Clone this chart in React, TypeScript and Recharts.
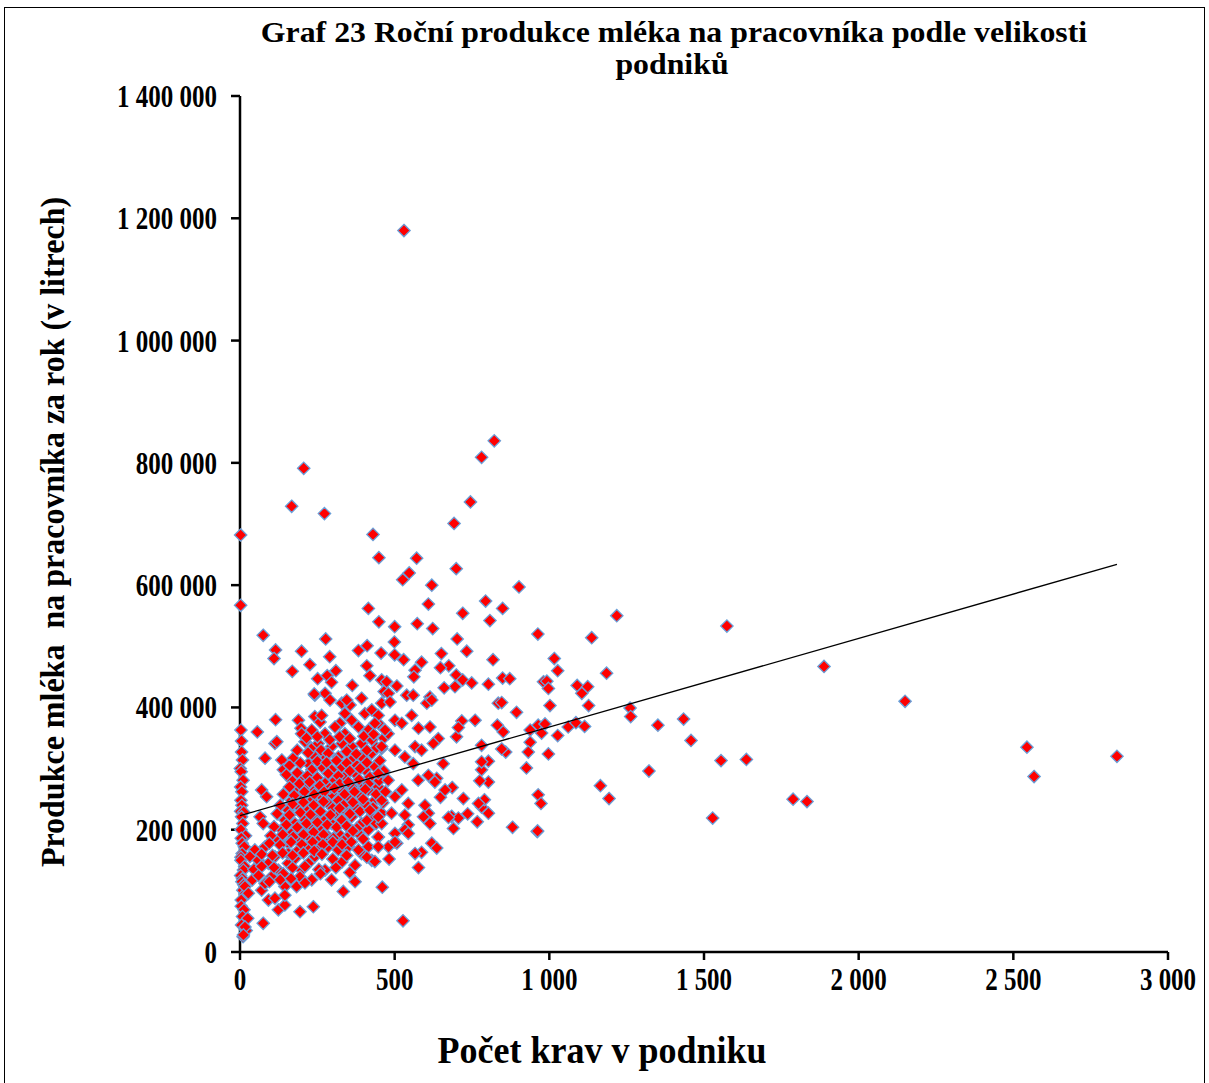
import React from 'react';
import { ScatterChart, Scatter, XAxis, YAxis } from 'recharts';

// [cows, litres per worker]
const herdsAtZero: [number, number][] = [
  [2, 682000], [2, 567000], [3, 363000], [5, 345000], [5, 327000], [8, 314000], [1, 300000], [4, 295000],
  [10, 281000], [2, 270000], [6, 262000], [3, 248000], [6, 240000], [2, 230000], [12, 229000], [5, 221000],
  [9, 210000], [3, 200000], [18, 190000], [4, 186000], [7, 178000], [14, 172000], [7, 161000], [3, 155000],
  [3, 150000], [15, 140000], [11, 134000], [2, 125000], [8, 120000], [6, 115000], [12, 110000], [9, 101000],
  [16, 95000], [4, 85000], [4, 75000], [13, 69000], [8, 58000], [25, 55000], [5, 44000], [20, 35000], [10, 25000],
];

const herdsSmall: [number, number][] = [
  [16, 107000], [27, 96000], [70, 101000], [92, 85000], [113, 88000], [124, 69000], [145, 77000], [194, 66000],
  [237, 74000], [75, 47000], [16, 41000], [11, 28000],
  [48, 167000], [81, 172000], [32, 156000], [59, 150000], [92, 145000], [113, 156000], [124, 134000], [156, 145000],
  [178, 153000], [199, 134000], [221, 145000], [242, 156000], [275, 134000], [329, 147000], [372, 142000],
  [296, 118000], [334, 99000], [372, 115000], [81, 112000], [102, 123000], [145, 107000], [183, 107000],
  [194, 123000], [232, 118000], [145, 93000], [426, 150000], [393, 161000],
  [56, 360000], [115, 380000], [189, 379000], [197, 366000], [242, 420000], [275, 423000], [291, 412000],
  [242, 385000], [259, 376000], [264, 387000], [329, 407000], [356, 404000], [393, 415000], [339, 390000],
  [323, 374000], [361, 379000], [404, 390000], [81, 317000], [135, 314000], [172, 317000], [140, 298000],
  [113, 341000], [119, 344000], [210, 344000], [232, 333000], [221, 308000], [70, 265000], [86, 254000],
  [65, 221000], [75, 210000], [151, 218000],
  [167, 281000], [199, 287000], [232, 298000], [264, 303000], [296, 298000], [329, 303000], [361, 314000],
  [393, 319000], [426, 325000], [458, 333000],
  [178, 265000], [210, 270000], [242, 265000], [275, 276000], [307, 281000], [339, 287000], [372, 292000],
  [404, 298000], [436, 303000],
  [167, 248000], [199, 254000], [232, 248000], [264, 254000], [296, 259000], [329, 265000], [361, 270000],
  [393, 276000], [426, 281000], [458, 287000],
  [156, 232000], [189, 238000], [221, 232000], [253, 238000], [285, 243000], [318, 248000], [350, 254000],
  [383, 259000], [415, 265000], [447, 270000],
  [145, 216000], [178, 210000], [210, 216000], [242, 221000], [275, 216000], [307, 227000], [339, 232000],
  [372, 238000], [404, 243000], [436, 248000],
  [135, 200000], [167, 194000], [199, 200000], [232, 205000], [264, 200000], [296, 210000], [329, 216000],
  [361, 221000], [393, 210000], [426, 221000], [458, 227000],
  [124, 183000], [156, 178000], [189, 183000], [221, 189000], [253, 183000], [285, 189000], [318, 194000],
  [350, 189000], [383, 194000], [415, 200000], [447, 188000],
  [156, 161000], [189, 167000], [221, 172000], [253, 167000], [285, 172000], [318, 167000], [350, 172000],
  [383, 167000], [415, 172000],
  [199, 357000], [232, 363000], [275, 357000], [307, 368000], [339, 357000], [383, 368000], [415, 363000],
  [447, 374000], [253, 341000], [296, 336000], [329, 341000], [361, 336000], [393, 341000], [426, 347000],
  [275, 319000], [318, 319000], [242, 319000], [426, 396000], [447, 387000], [458, 407000],
  [75, 518000], [277, 512000], [115, 494000], [110, 480000], [199, 492000], [169, 459000], [226, 470000],
  [290, 483000], [251, 447000], [282, 452000], [310, 460000], [296, 441000], [383, 493000], [411, 501000],
  [456, 489000], [410, 468000], [420, 452000], [363, 436000], [240, 422000], [345, 412000], [458, 445000],
  [466, 426000], [474, 442000], [480, 423000], [415, 562000], [449, 540000], [167, 729000], [273, 717000],
  [206, 791000], [430, 683000], [449, 645000],
];

// the crowded core of the cloud, where markers overlap
const herdsCore: [number, number][] = [
  [215, 350000], [250, 352000], [290, 347000], [322, 352000], [355, 349000], [400, 353000], [432, 356000], [465, 350000],
  [185, 330000], [220, 326000], [262, 330000], [285, 325000], [345, 328000], [376, 324000], [410, 330000], [442, 334000],
  [160, 305000], [195, 309000], [250, 312000], [280, 310000], [312, 313000], [345, 309000], [378, 305000], [410, 310000], [452, 313000],
  [150, 290000], [185, 293000], [218, 288000], [250, 285000], [285, 292000], [318, 288000], [355, 296000], [388, 300000], [420, 286000], [465, 296000],
  [160, 270000], [192, 275000], [225, 278000], [258, 272000], [290, 268000], [322, 275000], [350, 278000], [385, 282000], [415, 275000], [450, 280000],
  [140, 258000], [175, 256000], [208, 262000], [240, 258000], [272, 262000], [305, 268000], [338, 258000], [370, 262000], [405, 266000], [440, 258000], [470, 262000],
  [130, 240000], [170, 242000], [205, 245000], [238, 240000], [270, 246000], [300, 235000], [335, 240000], [365, 245000], [398, 250000], [430, 236000], [462, 244000],
  [120, 226000], [160, 224000], [195, 228000], [228, 225000], [260, 230000], [292, 224000], [322, 235000], [355, 226000], [388, 230000], [420, 232000],
  [110, 205000], [150, 208000], [185, 204000], [215, 210000], [250, 212000], [282, 208000], [312, 204000], [345, 206000], [378, 202000], [410, 215000], [440, 210000],
  [100, 190000], [138, 192000], [172, 188000], [205, 192000], [238, 196000], [270, 192000], [302, 186000], [335, 182000], [365, 198000], [398, 185000],
  [95, 178000], [130, 175000], [165, 180000], [200, 176000], [235, 180000], [268, 176000], [300, 180000], [330, 176000], [360, 180000],
  [70, 160000], [105, 158000], [138, 162000], [170, 158000], [205, 162000], [240, 165000], [265, 160000], [300, 152000], [345, 158000], [410, 155000],
  [45, 135000], [70, 140000], [110, 138000], [140, 128000], [170, 138000], [210, 140000], [255, 135000], [310, 138000], [355, 130000],
  [40, 118000], [60, 125000], [95, 115000], [130, 118000], [165, 120000], [210, 113000], [260, 128000],
];

const herdsMid: [number, number][] = [
  [530, 1180000], [527, 51000], [745, 736000], [781, 809000], [822, 836000], [692, 701000], [571, 644000],
  [699, 627000], [547, 620000], [526, 609000], [620, 600000], [902, 597000], [609, 569000], [794, 574000],
  [849, 562000], [720, 554000], [808, 542000], [573, 537000], [500, 532000], [623, 529000], [963, 520000],
  [702, 512000], [733, 492000], [499, 507000], [500, 486000], [529, 478000], [651, 488000], [818, 478000],
  [587, 474000], [675, 468000], [648, 465000], [566, 461000], [562, 450000], [699, 453000], [720, 445000],
  [749, 440000], [695, 434000], [803, 438000], [849, 448000], [872, 447000], [507, 435000], [660, 432000],
  [614, 417000], [539, 420000], [981, 442000],
  [460, 106000], [577, 138000], [482, 152000], [436, 148000], [587, 163000], [566, 161000], [620, 178000],
  [636, 170000], [881, 204000], [961, 197000], [690, 202000], [684, 222000], [706, 219000], [736, 226000],
  [767, 213000], [674, 220000], [803, 227000], [781, 237000], [790, 249000], [771, 243000], [722, 251000],
  [648, 253000], [609, 227000], [614, 210000], [598, 240000], [686, 269000], [964, 257000], [973, 243000],
  [803, 278000], [775, 280000], [781, 298000], [803, 312000], [781, 311000], [926, 301000], [859, 327000],
  [846, 332000], [938, 343000], [932, 327000], [832, 371000], [851, 360000], [938, 363000], [964, 371000],
  [975, 358000], [894, 392000], [781, 338000], [700, 352000], [717, 378000], [760, 379000], [706, 367000],
  [835, 407000], [846, 408000], [663, 265000], [604, 407000], [620, 412000], [485, 409000], [560, 420000],
  [657, 308000], [636, 284000], [609, 289000], [630, 278000], [576, 281000], [593, 221000], [544, 208000],
  [501, 194000], [507, 178000], [480, 172000], [533, 200000], [458, 210000], [447, 188000], [501, 330000],
  [479, 357000], [458, 336000], [533, 319000], [566, 336000], [560, 308000], [436, 374000], [469, 363000],
  [501, 379000], [555, 387000], [523, 374000], [577, 366000], [614, 368000], [641, 349000], [587, 330000],
  [625, 341000], [447, 292000], [479, 281000], [523, 265000], [501, 254000], [544, 243000], [458, 248000],
  [490, 227000], [533, 224000], [447, 221000], [544, 194000], [501, 180000], [447, 172000],
];

const herdsLarge: [number, number][] = [
  [1218, 550000], [1574, 533000], [1137, 514000], [1016, 480000], [1027, 460000], [1185, 456000],
  [992, 443000], [997, 431000], [1090, 436000], [1124, 434000], [1105, 423000], [1002, 403000],
  [1127, 403000], [1261, 399000], [1263, 385000], [1434, 381000], [1351, 371000], [986, 373000],
  [1061, 368000], [1086, 375000], [1114, 369000], [1027, 354000], [1458, 346000], [997, 324000],
  [1555, 313000], [1637, 315000], [1322, 296000], [1165, 272000], [1193, 251000], [1528, 219000],
  [962, 198000], [1888, 467000], [2150, 410000], [1788, 250000], [1833, 246000], [2544, 335000],
  [2567, 287000], [2835, 320000],
];

// linear trend from the reference
const trendCows = [0, 2835];
const trendLitres = [223000, 634000];

const xTicks = [0, 500, 1000, 1500, 2000, 2500, 3000];
const yTicks = [0, 200000, 400000, 600000, 800000, 1000000, 1200000, 1400000];

const points = [...herdsAtZero, ...herdsSmall, ...herdsCore, ...herdsMid, ...herdsLarge].map(([x, y]) => ({ x, y }));
const trend = trendCows.map((x, i) => ({ x, y: trendLitres[i] }));

const fmt = (v: number) => String(v).replace(/\B(?=(\d{3})+(?!\d))/g, ' ');

const FONT = '"Liberation Serif", "Times New Roman", serif';

const Diamond = (props: any) => {
  const { cx, cy } = props;
  const r = 6.2;
  return (
    <path
      d={`M${cx},${cy - r}L${cx + r},${cy}L${cx},${cy + r}L${cx - r},${cy}Z`}
      fill="#ff0000"
      stroke="#6a9fd8"
      strokeWidth={1.3}
    />
  );
};

// the reference text is drawn a little taller than it is wide
const XTick = ({ x, y, payload }: any) => (
  <text transform={`translate(${x},${y}) scale(1,1.3)`} textAnchor="middle" dy="0.75em"
    fontFamily={FONT} fontWeight={700} fontSize={25} fill="#000">
    {fmt(payload.value)}
  </text>
);

const YTick = ({ x, y, payload }: any) => (
  <text transform={`translate(${x},${y}) scale(1,1.3)`} textAnchor="end" dy="0.34em"
    fontFamily={FONT} fontWeight={700} fontSize={25} fill="#000">
    {fmt(payload.value)}
  </text>
);

const titleText: React.CSSProperties = {
  position: 'absolute', fontFamily: FONT, fontWeight: 700, whiteSpace: 'pre', color: '#000', lineHeight: 1,
};

export default function App() {
  return (
    <div style={{ position: 'absolute', left: 0, top: 0, width: 1209, height: 1083, overflow: 'hidden', background: '#fff' }}>
      <div style={{ position: 'absolute', left: 4, top: 7, width: 1199, height: 1100, border: '1.5px solid #000' }} />
      <div style={{ position: 'absolute', left: 0, top: 0 }}>
        <ScatterChart width={1209} height={1083} margin={{ top: 96, right: 41, bottom: 0, left: 0 }}>
          <XAxis
            type="number"
            dataKey="x"
            domain={[0, 3000]}
            ticks={xTicks}
            height={131}
            tickSize={8}
            tickMargin={6}
            tick={<XTick />}
            axisLine={{ stroke: '#000', strokeWidth: 2.5 }}
            tickLine={{ stroke: '#000', strokeWidth: 2.5 }}
            interval={0}
          />
          <YAxis
            type="number"
            dataKey="y"
            domain={[0, 1400000]}
            ticks={yTicks}
            width={240}
            tickSize={9}
            tickMargin={14}
            tick={<YTick />}
            axisLine={{ stroke: '#000', strokeWidth: 2.5 }}
            tickLine={{ stroke: '#000', strokeWidth: 2.5 }}
            interval={0}
          />
          <Scatter data={points} shape={Diamond} isAnimationActive={false} />
          <Scatter
            data={trend}
            line={{ stroke: '#000', strokeWidth: 1.3 }}
            shape={() => <g />}
            isAnimationActive={false}
          />
        </ScatterChart>
      </div>
      <div style={{ ...titleText, left: 674, top: 32, fontSize: 30, lineHeight: '30px', transform: 'translate(-50%, -50%) scaleX(1.06)' }}>
        Graf 23 Roční produkce mléka na pracovníka podle velikosti
      </div>
      <div style={{ ...titleText, left: 672, top: 64, fontSize: 30, lineHeight: '30px', transform: 'translate(-50%, -50%) scaleX(1.06)' }}>
        podniků
      </div>
      <div style={{ ...titleText, left: 52, top: 532, fontSize: 32, transform: 'translate(-50%, -50%) rotate(-90deg) scaleY(1.08)' }}>
        Produkce mléka  na pracovníka za rok (v litrech)
      </div>
      <div style={{ ...titleText, left: 602, top: 1050, fontSize: 36, transform: 'translate(-50%, -50%) scaleY(1.05)' }}>
        Počet krav v podniku
      </div>
    </div>
  );
}
